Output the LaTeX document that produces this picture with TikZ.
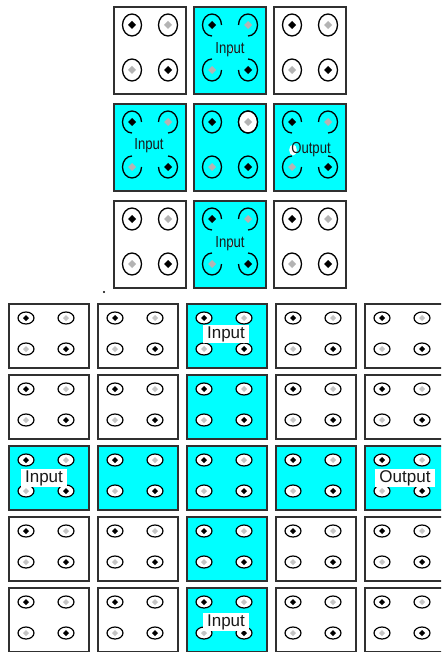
\documentclass[tikz,border=0pt]{standalone}
\usepackage{fontspec}
\setmainfont{Liberation Sans}
\definecolor{aqua}{HTML}{00FFFF}
\definecolor{frame}{HTML}{303030}
\definecolor{lgray}{HTML}{B4B4B4}
\definecolor{llgray}{HTML}{C4C4C4}
\newcommand\mydia[4]{\fill[#3] (#1,#2) ++(0,-#4) -- ++(#4,#4) -- ++(-#4,#4) -- ++(-#4,-#4) -- cycle;}
\newcommand\gapring[4]{\draw[ring] (#1,#2) ++(#3:9.5 and 11) arc[start angle=#3, end angle=#4, x radius=9.5, y radius=11];}
\begin{document}
\begin{tikzpicture}[x=1pt,y=-1pt,
  boxw/.style={draw=frame, line width=1.6pt, fill=white, minimum width=72, minimum height=87, inner sep=0pt, anchor=north west},
  boxc/.style={boxw, fill=aqua},
  sboxw/.style={draw=frame, line width=1.6pt, fill=white, minimum width=80, minimum height=64, inner sep=0pt, anchor=north west},
  sboxc/.style={sboxw, fill=aqua},
  ring/.style={draw=black, line width=1.3pt},
  sring/.style={draw=black, line width=1.2pt, fill=white},
  toplbl/.style={font=\fontsize{16}{16}\selectfont, text=black!90, inner sep=0pt},
  botlbl/.style={font=\fontsize{17}{17}\selectfont, text=black!90, fill=white, inner xsep=4pt, inner ysep=0pt, minimum height=18}]
\useasboundingbox (0,0) rectangle (441,652);
\clip (0,0) rectangle (441,652);

% ---------- top 3x3 grid ----------
\foreach \r/\ty in {1/6,3/200} \foreach \c/\tx in {1/113,3/273}
  \node[boxw] (t\r\c) at (\tx,\ty) {};
\foreach \r/\c/\tx/\ty in {1/2/193/6, 2/1/113/103, 2/2/193/103, 2/3/273/103, 3/2/193/200}
  \node[boxc] (t\r\c) at (\tx,\ty) {};

% full rings (plain boxes)
\foreach \tx/\ty in {113/6, 273/6, 113/200, 273/200, 193/103} {
  \draw[ring] (\tx+19,\ty+19) ellipse[x radius=9.5, y radius=11];
  \draw[ring] (\tx+55,\ty+19) ellipse[x radius=9.5, y radius=11];
  \draw[ring] (\tx+19,\ty+64) ellipse[x radius=9.5, y radius=11];
  \draw[ring] (\tx+55,\ty+64) ellipse[x radius=9.5, y radius=11];
}
% white-filled ring in the middle box
\fill[white] (193+55,103+19) ellipse[x radius=9, y radius=10.5];
\draw[ring] (193+55,103+19) ellipse[x radius=9.5, y radius=11];

% broken rings (labelled boxes)
\foreach \tx/\ty in {193/6, 113/103, 273/103, 193/200} {
  \gapring{\tx+19}{\ty+19}{90}{360}
  \gapring{\tx+55}{\ty+19}{180}{450}
  \gapring{\tx+19}{\ty+64}{0}{270}
  \gapring{\tx+55}{\ty+64}{-90}{180}
}
% diamonds top grid
\foreach \tx/\ty in {113/6, 193/6, 273/6, 113/103, 193/103, 273/103, 113/200, 193/200, 273/200} {
  \mydia{\tx+19}{\ty+19}{black}{4}
  \mydia{\tx+55}{\ty+19}{lgray}{4}
  \mydia{\tx+19}{\ty+64}{lgray}{4}
  \mydia{\tx+55}{\ty+64}{black}{4}
}
% top labels
\fill[white] (232,50) ellipse[x radius=1.2, y radius=2.5];
\fill[white] (232,244) ellipse[x radius=1.2, y radius=2.5];
\fill[white] (293,150) ellipse[x radius=3.8, y radius=5.5];
\node[toplbl] (tl1) at (230,50) {\scalebox{0.82}[1]{Input}};
\node[toplbl] (tl2) at (149,146) {\scalebox{0.82}[1]{Input}};
\node[toplbl] (tl3) at (311,150) {\scalebox{0.82}[1]{Output}};
\node[toplbl] (tl4) at (230,244) {\scalebox{0.82}[1]{Input}};

% separator dot
\fill[black] (104,292) circle[radius=1.1];

% ---------- bottom 5x5 grid ----------
\foreach \r in {1,...,5} \foreach \c in {1,...,5} {
  \pgfmathsetmacro\bx{8+89*(\c-1)}
  \pgfmathsetmacro\by{303+71*(\r-1)}
  \pgfmathtruncatemacro\cy{(\c==3 || \r==3) ? 1 : 0}
  \ifnum\cy=1
    \node[sboxc] (b\r\c) at (\bx,\by) {};
  \else
    \node[sboxw] (b\r\c) at (\bx,\by) {};
  \fi
  \draw[sring] (\bx+18,\by+15) ellipse[x radius=8, y radius=6];
  \draw[sring] (\bx+58,\by+15) ellipse[x radius=8, y radius=6];
  \draw[sring] (\bx+18,\by+46) ellipse[x radius=8, y radius=6];
  \draw[sring] (\bx+58,\by+46) ellipse[x radius=8, y radius=6];
  \mydia{\bx+18}{\by+15}{black}{3}
  \mydia{\bx+58}{\by+15}{llgray}{3}
  \mydia{\bx+18}{\by+46}{llgray}{3}
  \mydia{\bx+58}{\by+46}{black}{3}
}
\node[botlbl] (bl1) at (226,334) {Input};
\node[botlbl] (bl2) at (44,478) {Input};
\node[botlbl] (bl3) at (405,478) {Output};
\node[botlbl] (bl4) at (226,622) {Input};
\end{tikzpicture}
\end{document}
